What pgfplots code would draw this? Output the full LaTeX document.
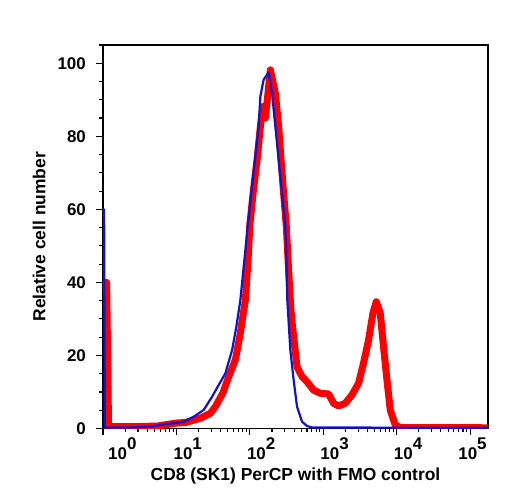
\documentclass[border=0pt]{standalone}
\usepackage{fontspec}
\setmainfont{Liberation Sans}
\usepackage{pgfplots}
\pgfplotsset{compat=1.18}

\definecolor{fmoblue}{RGB}{18,18,205}
\definecolor{stainred}{RGB}{255,0,0}

% decade label: "10" with a full-size raised exponent
\newcommand{\dec}[1]{10\raisebox{10bp}{#1}}

\begin{document}
\begin{tikzpicture}
\path[use as bounding box] (0,0) rectangle (508bp,500bp);
\begin{axis}[
  at={(103bp,71.5bp)}, anchor=south west,
  scale only axis, width=385bp, height=383.5bp,
  xmode=log, log basis x=10,
  xmin=1, xmax=1.75e5, ymin=0, ymax=105,
  axis line style={black, line width=1.2bp},
  tick pos=left, tick align=outside,
  major tick length=7bp, minor tick length=4bp,
  every tick/.style={black, line width=1.1bp},
  xtick={1,10,100,1000,10000,100000},
  xticklabels={\hspace*{8bp}\dec{0},\dec{1},\dec{2},\dec{3},\dec{4},\hspace*{-9bp}\dec{5}},
  minor xtick={2,3,4,5,6,7,8,9,20,30,40,50,60,70,80,90,200,300,400,500,600,700,800,900,
               2000,3000,4000,5000,6000,7000,8000,9000,20000,30000,40000,50000,60000,70000,80000,90000},
  ytick={0,20,40,60,80,100},
  yticklabels={0,20,40,60,80,100},
  minor ytick={5,10,15,25,30,35,45,50,55,65,70,75,85,90,95,105},
  tick label style={font=\fontsize{17}{20}\selectfont\bfseries, inner sep=0pt},
  xticklabel style={anchor=base west, xshift=-3bp, yshift=-24bp},
  yticklabel style={anchor=east, xshift=-10bp},
  label style={font=\fontsize{17.5}{21}\selectfont\bfseries, inner sep=0pt},
  xlabel={CD8 (SK1) PerCP with FMO control},
  ylabel={Relative cell number},
  xlabel style={at={(axis description cs:0.5,-0.1343)}, anchor=base},
  ylabel style={at={(axis description cs:-0.166,0.5)}, anchor=center},
]
% CD8 (SK1) PerCP stained sample
\addplot[stainred, line width=7bp, line join=round, line cap=round] coordinates {
  (1.0,40) (1.12,40) (1.19,0.5) (1.48,0.5) (3.24,0.55) (5.51,0.68) (7.47,1.1)
  (10.0,1.5) (13.3,1.64) (21.2,2.8) (29.0,4.16) (33.9,5.97) (42.9,9.73)
  (51.5,14.2) (63.5,18.8) (74.3,26.2) (86.9,35.2) (96.3,48.9) (99.4,55.3)
  (110.6,64.4) (125.4,73.6) (139,82.7) (151.2,88.2) (162.6,85.0) (174.7,90.9)
  (190,98.2) (222.3,91.8) (246.6,82.7) (265.6,73.6) (288.2,64.4) (313.8,55.3)
  (334,44.8) (361.7,32.5) (378.6,28.4) (438.5,16.9) (513,14.2) (600,12.8)
  (737.6,10.5) (910,9.64) (1180,9.45) (1380,6.9) (1615,6.16) (1991,6.9)
  (2455,9.18) (3020,12.4) (3532,17.9) (4131,24.2) (4743,31.6) (5260,34.7)
  (5967,31.6) (6610,22.4) (7363,13.3) (8166,5.07) (9550,0.96) (11170,0.27)
  (175000,0.2)
};
% FMO control
\addplot[fmoblue, line width=2.2bp, line join=round] coordinates {
  (1.0,60) (1.035,60) (1.06,0.3) (1.265,0.27) (2.37,0.3) (4.43,0.55) (7.47,1.23)
  (10.2,1.59) (12.6,1.86) (17.2,3.23) (23.5,5.07) (30.6,8.71) (37.6,11.9)
  (46.4,15.1) (57.3,21.5) (65.5,27.9) (74.3,35.2) (86.9,48.9) (93.4,55.3)
  (107.2,66.2) (118.8,74.5) (131.8,82.7) (139,90.9) (154,95.5) (180.3,97.5)
  (200.5,91.8) (222.3,82.7) (246.6,73.6) (274.3,64.4) (304,55.3) (313.8,47.5)
  (323.6,35.2) (355.6,21.5) (394.5,13.3) (438.5,6.0) (513,1.86) (600,0.68)
  (708,0.27) (175000,0.2)
};
\end{axis}
\end{tikzpicture}
\end{document}
